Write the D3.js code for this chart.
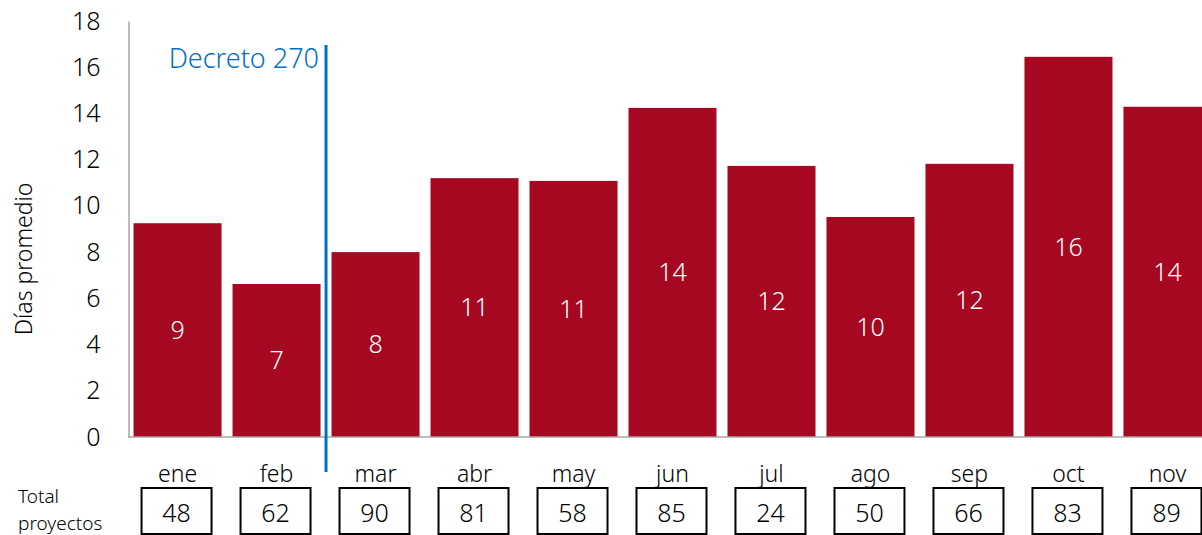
<!DOCTYPE html>
<html>
<head>
<meta charset="utf-8">
<script src="https://cdn.jsdelivr.net/npm/d3@7"></script>
<style>
body { margin: 0; background: #fff; }
text { font-family: "Noto Sans", sans-serif; font-weight: 300; }
</style>
</head>
<body>
<svg id="chart"></svg>
<script>
var months = ["ene", "feb", "mar", "abr", "may", "jun", "jul", "ago", "sep", "oct", "nov"];
var dias = [9.25, 6.62, 8.0, 11.2, 11.08, 14.24, 11.73, 9.52, 11.82, 16.45, 14.29];
var proyectos = [48, 62, 90, 81, 58, 85, 24, 50, 66, 83, 89];
var yTicks = [0, 2, 4, 6, 8, 10, 12, 14, 16, 18];

var width = 1202, height = 535;

var svg = d3.select('#chart')
    .attr('width', width)
    .attr('height', height);

var x = d3.scaleBand()
    .domain(months)
    .range([128, 128 + 11 * 99])
    .paddingInner(0.111)
    .paddingOuter(0.056);

var y = d3.scaleLinear()
    .domain([0, 18])
    .range([437, 21]);

// y axis
var yAxis = svg.append("g")
    .attr("transform", "translate(128.5,0)")
    .call(d3.axisLeft(y).tickValues(yTicks).tickSize(0).tickPadding(28));
yAxis.select(".domain").attr("stroke", "#a6a6a6").attr("stroke-width", 1.5);
yAxis.selectAll("text")
    .attr("font-size", "25px")
    .attr("fill", "#000")
    .style("font-family", "'Noto Sans', sans-serif")
    .style("font-weight", 300);

svg.append("text")
    .attr("transform", "translate(32,259) rotate(-90)")
    .attr("text-anchor", "middle")
    .attr("font-size", "23px")
    .text("Días promedio");

// bars
svg.selectAll(".bar")
    .data(dias)
    .enter()
    .append("rect")
    .attr("class", "bar")
    .attr("x", function(d, i) { return x(months[i]); })
    .attr("y", function(d) { return y(d); })
    .attr("width", x.bandwidth())
    .attr("height", function(d) { return y(0) - y(d); })
    .attr("fill", "#a50820");

svg.selectAll(".label")
    .data(dias)
    .enter()
    .append("text")
    .attr("class", "label")
    .attr("x", function(d, i) { return x(months[i]) + x.bandwidth() / 2; })
    .attr("y", function(d) { return (y(d) + y(0)) / 2; })
    .attr("dy", "0.35em")
    .attr("text-anchor", "middle")
    .attr("font-size", "25px")
    .attr("fill", "#fff")
    .text(function(d) { return Math.round(d); });

// baseline
svg.append("line")
    .attr("x1", 128).attr("x2", width)
    .attr("y1", y(0)).attr("y2", y(0))
    .attr("stroke", "#a6a6a6")
    .attr("stroke-width", 1.5);

// decreto line
var xDec = x("mar") - 5.5;
svg.append("line")
    .attr("x1", xDec).attr("x2", xDec)
    .attr("y1", 45).attr("y2", 472)
    .attr("stroke", "#0070c0")
    .attr("stroke-width", 3);
svg.append("text")
    .attr("x", xDec - 7)
    .attr("y", 68)
    .attr("text-anchor", "end")
    .attr("font-size", "27px")
    .attr("fill", "#0070c0")
    .text("Decreto 270");

// month labels
svg.selectAll(".month")
    .data(months)
    .enter()
    .append("text")
    .attr("class", "month")
    .attr("x", function(d) { return x(d) + x.bandwidth() / 2; })
    .attr("y", 482)
    .attr("text-anchor", "middle")
    .attr("font-size", "23px")
    .text(function(d) { return d; });

// total proyectos boxes
var boxW = 70, boxH = 46;
svg.selectAll(".box")
    .data(proyectos)
    .enter()
    .append("rect")
    .attr("class", "box")
    .attr("x", function(d, i) { return x(months[i]) + x.bandwidth() / 2 - boxW / 2 - 1; })
    .attr("y", 488)
    .attr("width", boxW)
    .attr("height", boxH)
    .attr("fill", "none")
    .attr("stroke", "#000")
    .attr("stroke-width", 2);

svg.selectAll(".total")
    .data(proyectos)
    .enter()
    .append("text")
    .attr("class", "total")
    .attr("x", function(d, i) { return x(months[i]) + x.bandwidth() / 2 - 1; })
    .attr("y", 513)
    .attr("dy", "0.35em")
    .attr("text-anchor", "middle")
    .attr("font-size", "25px")
    .text(function(d) { return d; });

svg.append("text")
    .attr("x", 18).attr("y", 503)
    .attr("font-size", "19px")
    .text("Total");
svg.append("text")
    .attr("x", 18).attr("y", 530)
    .attr("font-size", "19px")
    .text("proyectos");
</script>
</body>
</html>
